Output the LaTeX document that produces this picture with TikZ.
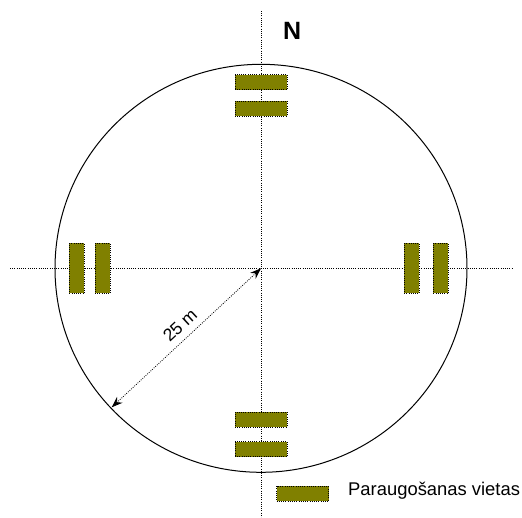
\documentclass[tikz,border=0pt]{standalone}
\usepackage{fontspec}
\setmainfont{Liberation Sans}
\usetikzlibrary{arrows.meta}
\definecolor{sitecol}{HTML}{808000}
\begin{document}
\begin{tikzpicture}[x=1pt,y=-1pt,
  dotline/.style={line width=0.8pt, dash pattern=on 0.9pt off 1.3pt},
  site/.style={draw=black, dotline, fill=sitecol, inner sep=0pt},
  hsite/.style={site, minimum width=52pt, minimum height=15pt},
  vsite/.style={site, minimum width=15pt, minimum height=50pt},
  >={Stealth[length=11pt,width=8pt]}]
\useasboundingbox (0,0) rectangle (522,517);
\coordinate (c) at (261,268.3);
\coordinate (ntop) at (261,11);
\coordinate (nbot) at (261,517);
\coordinate (wl) at (10,268.3);
\coordinate (wr) at (512,268.3);
\draw[dotline] (ntop) -- (nbot);
\draw[dotline] (wl) -- (wr);
\draw[line width=1pt] (c) ellipse [x radius=206pt, y radius=204pt];
\node[hsite] (t1) at (261,82.2) {};
\node[hsite] (t2) at (261,108.5) {};
\node[hsite] (b1) at (261,419.5) {};
\node[hsite] (b2) at (261,449.2) {};
\node[vsite] (l1) at (76.8,268.3) {};
\node[vsite] (l2) at (102.5,268.3) {};
\node[vsite] (r1) at (411.7,268.3) {};
\node[vsite] (r2) at (440.8,268.3) {};
\node[font=\bfseries\fontsize{25}{25}\selectfont, anchor=base west, inner sep=0pt] (n) at (283,39) {N};
\coordinate (e) at (111.7,407.3);
\draw[dotline, <->] (c) -- (e);
\node[rotate=42.8, font=\fontsize{17.5}{17.5}\selectfont, inner sep=0pt] (lab) at (180,325) {25 m};
\node[hsite] (leg) at (302.5,493.8) {};
\node[font=\fontsize{18.4}{18.4}\selectfont, anchor=base west, inner sep=0pt] (legt) at (348,495) {Paraugošanas vietas};
\end{tikzpicture}
\end{document}
